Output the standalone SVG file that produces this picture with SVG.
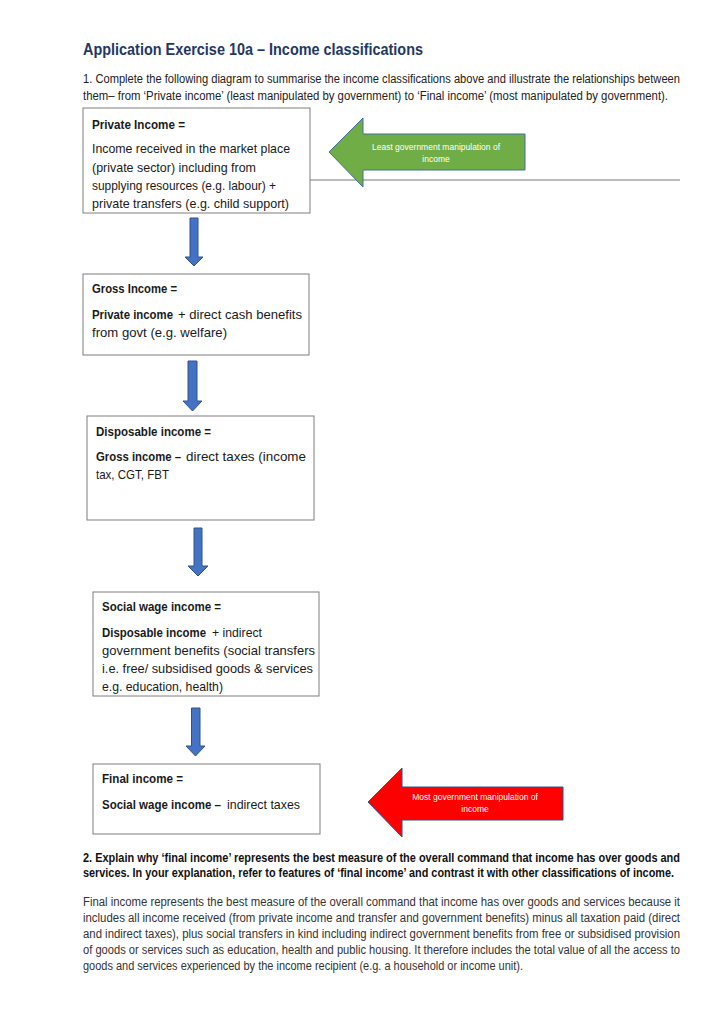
<svg xmlns="http://www.w3.org/2000/svg" width="724" height="1024" viewBox="0 0 724 1024">
<defs>
<style>
text{font-family:"Liberation Sans",Arial,sans-serif;fill:#1a1a1a}
.title{font-size:17px;font-weight:bold;fill:#1F3864}
.q{font-size:12px;fill:#222}
.qb{font-size:12px;font-weight:bold;fill:#111}
.p{font-size:12px;fill:#333}
.t{font-size:13px}
.b{font-size:13px;font-weight:bold}
.box{fill:#fff;stroke:#7f7f7f;stroke-width:1}
.down{fill:#4472C4;stroke:#2F528F;stroke-width:1}
.lbl{font-size:8.5px;fill:#fff;text-anchor:middle}
</style>
</defs>
<rect width="724" height="1024" fill="#fff"/>

<text class="title" x="83" y="55" textLength="340" lengthAdjust="spacingAndGlyphs">Application Exercise 10a – Income classifications</text>
<text class="q" x="83" y="83" textLength="597" lengthAdjust="spacingAndGlyphs">1. Complete the following diagram to summarise the income classifications above and illustrate the relationships between</text>
<text class="q" x="83" y="100" textLength="585" lengthAdjust="spacingAndGlyphs">them– from ‘Private income’ (least manipulated by government) to ‘Final income’ (most manipulated by government).</text>

<line x1="310" y1="180" x2="680" y2="180" stroke="#a6a6a6" stroke-width="1.3"/>

<g id="connectors">
<path class="down" d="M190,218 H198 V257 H203 L194,266 L185,257 H190 Z"/>
<path class="down" d="M188,361 H197 V401 H202 L192.5,411 L183,401 H188 Z"/>
<path class="down" d="M194,528 H202 V566 H208 L198,576 L188,566 H194 Z"/>
<path class="down" d="M191.5,708 H200 V746 H205 L195.5,756 L186,746 H191.5 Z"/>
</g>

<g id="private-income">
<rect class="box" x="83" y="108" width="227" height="105"/>
<text class="b" x="92" y="129" textLength="93" lengthAdjust="spacingAndGlyphs">Private Income =</text>
<text class="t" x="92" y="153" textLength="198" lengthAdjust="spacingAndGlyphs">Income received in the market place</text>
<text class="t" x="92" y="172" textLength="164" lengthAdjust="spacingAndGlyphs">(private sector) including from</text>
<text class="t" x="92" y="190" textLength="184" lengthAdjust="spacingAndGlyphs">supplying resources (e.g. labour) +</text>
<text class="t" x="92" y="208" textLength="197" lengthAdjust="spacingAndGlyphs">private transfers (e.g. child support)</text>
</g>

<g id="least-arrow">
<path d="M329,152 L363,118 V134 H525 V170 H363 V187 Z" fill="#70AD47" stroke="#41719C" stroke-width="1"/>
<text class="lbl" x="436" y="150">Least government manipulation of</text>
<text class="lbl" x="436" y="162">income</text>
</g>

<g id="gross-income">
<rect class="box" x="83" y="274" width="226" height="81"/>
<text class="b" x="92" y="293" textLength="85" lengthAdjust="spacingAndGlyphs">Gross Income =</text>
<text class="b" x="92" y="319" textLength="81" lengthAdjust="spacingAndGlyphs">Private income</text>
<text class="t" x="178" y="319" textLength="124" lengthAdjust="spacingAndGlyphs">+ direct cash benefits</text>
<text class="t" x="92" y="337" textLength="135" lengthAdjust="spacingAndGlyphs">from govt (e.g. welfare)</text>
</g>

<g id="disposable-income">
<rect class="box" x="87" y="416" width="227" height="104"/>
<text class="b" x="96" y="436" textLength="115" lengthAdjust="spacingAndGlyphs">Disposable income =</text>
<text class="b" x="96" y="461" textLength="85" lengthAdjust="spacingAndGlyphs">Gross income –</text>
<text class="t" x="186" y="461" textLength="120" lengthAdjust="spacingAndGlyphs">direct taxes (income</text>
<text class="t" x="96" y="479" textLength="73" lengthAdjust="spacingAndGlyphs">tax, CGT, FBT</text>
</g>

<g id="social-wage-income">
<rect class="box" x="93" y="592" width="226" height="104"/>
<text class="b" x="102" y="611" textLength="119" lengthAdjust="spacingAndGlyphs">Social wage income =</text>
<text class="b" x="102" y="637" textLength="104" lengthAdjust="spacingAndGlyphs">Disposable income</text>
<text class="t" x="212" y="637" textLength="50" lengthAdjust="spacingAndGlyphs">+ indirect</text>
<text class="t" x="102" y="655" textLength="213" lengthAdjust="spacingAndGlyphs">government benefits (social transfers</text>
<text class="t" x="102" y="673" textLength="211" lengthAdjust="spacingAndGlyphs">i.e. free/ subsidised goods &amp; services</text>
<text class="t" x="102" y="691" textLength="121" lengthAdjust="spacingAndGlyphs">e.g. education, health)</text>
</g>

<g id="final-income">
<rect class="box" x="93" y="764" width="227" height="70"/>
<text class="b" x="102" y="783" textLength="81" lengthAdjust="spacingAndGlyphs">Final income =</text>
<text class="b" x="102" y="809" textLength="119" lengthAdjust="spacingAndGlyphs">Social wage income –</text>
<text class="t" x="227" y="809" textLength="73" lengthAdjust="spacingAndGlyphs">indirect taxes</text>
</g>

<g id="most-arrow">
<path d="M368,802 L402,768 V787 H563 V820 H402 V837 Z" fill="#FF0000" stroke="#2F528F" stroke-width="1"/>
<text class="lbl" x="475" y="800">Most government manipulation of</text>
<text class="lbl" x="475" y="812">income</text>
</g>

<text class="qb" x="83" y="862" textLength="597" lengthAdjust="spacingAndGlyphs">2. Explain why ‘final income’ represents the best measure of the overall command that income has over goods and</text>
<text class="qb" x="83" y="877" textLength="591" lengthAdjust="spacingAndGlyphs">services. In your explanation, refer to features of ‘final income’ and contrast it with other classifications of income.</text>

<text class="p" x="83" y="906" textLength="597" lengthAdjust="spacingAndGlyphs">Final income represents the best measure of the overall command that income has over goods and services because it</text>
<text class="p" x="83" y="922" textLength="597" lengthAdjust="spacingAndGlyphs">includes all income received (from private income and transfer and government benefits) minus all taxation paid (direct</text>
<text class="p" x="83" y="938" textLength="597" lengthAdjust="spacingAndGlyphs">and indirect taxes), plus social transfers in kind including indirect government benefits from free or subsidised provision</text>
<text class="p" x="83" y="954" textLength="597" lengthAdjust="spacingAndGlyphs">of goods or services such as education, health and public housing. It therefore includes the total value of all the access to</text>
<text class="p" x="83" y="970" textLength="440" lengthAdjust="spacingAndGlyphs">goods and services experienced by the income recipient (e.g. a household or income unit).</text>
</svg>
